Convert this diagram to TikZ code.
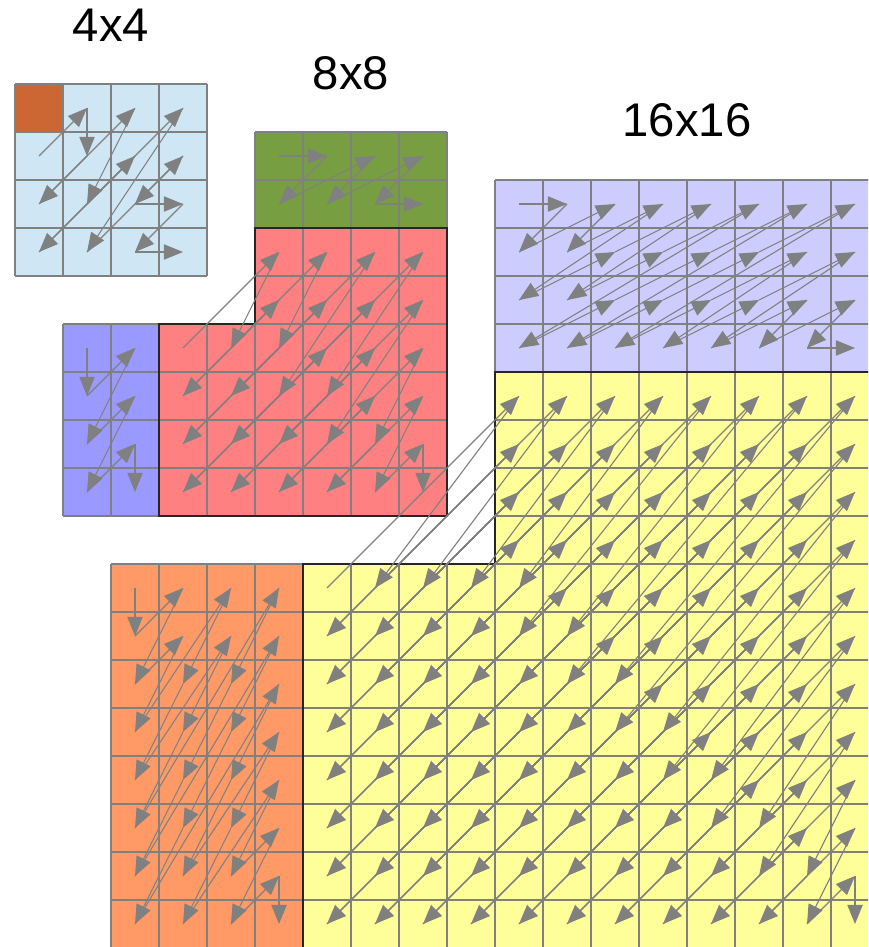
\documentclass[tikz,border=0pt]{standalone}
\usepackage{fontspec}
\setmainfont{Liberation Sans}
\usetikzlibrary{arrows.meta}
\definecolor{lowblue}{HTML}{CFE7F5}
\definecolor{dcbrown}{HTML}{CC6633}
\definecolor{horgreen}{HTML}{789E42}
\definecolor{verblue}{HTML}{9999FF}
\definecolor{diagred}{HTML}{FF8080}
\definecolor{horlilac}{HTML}{CCCCFF}
\definecolor{verorange}{HTML}{FF9966}
\definecolor{diagyellow}{HTML}{FFFF99}
\definecolor{linegray}{HTML}{808080}

\newcount\scanon
\newcommand{\scanreset}{\global\scanon=0 }
\newcommand{\scanto}[3]{%
  \ifnum\scanon=1 \draw[scan] (#1-\prevr-\prevc) -- (#1-#2-#3);\fi
  \xdef\prevr{#2}\xdef\prevc{#3}\global\scanon=1 }
\newcommand{\hscan}[5]{%
  \scanreset
  \foreach \k in {0,...,13}{
    \foreach \i in {3,2,1,0}{
      \pgfmathtruncatemacro\scancc{\k-2*\i}
      \ifnum\i<#4 \ifnum\scancc>-1 \ifnum\scancc<#5
        \pgfmathtruncatemacro\scanra{#2+\i}\pgfmathtruncatemacro\scanca{#3+\scancc}%
        \scanto{#1}{\scanra}{\scanca}\fi\fi\fi}}}
\newcommand{\vscan}[5]{%
  \scanreset
  \foreach \k in {0,...,13}{
    \foreach \j in {3,2,1,0}{
      \pgfmathtruncatemacro\scanrr{\k-2*\j}
      \ifnum\j<#5 \ifnum\scanrr>-1 \ifnum\scanrr<#4
        \pgfmathtruncatemacro\scanra{#2+\scanrr}\pgfmathtruncatemacro\scanca{#3+\j}%
        \scanto{#1}{\scanra}{\scanca}\fi\fi\fi}}}
\newcommand{\lvisit}[6]{%
  \ifnum#2<#4 \else\ifnum#3<#4 \else\ifnum#2>#5 \else\ifnum#3>#5 \else
    \ifnum#2<#6 \ifnum#3<#6 \else\scanto{#1}{#2}{#3}\fi
    \else\scanto{#1}{#2}{#3}\fi
  \fi\fi\fi\fi}
\newcommand{\diagscan}[6]{%
  \scanreset
  \foreach \d in {#2,...,#3}{
    \foreach \v in {0,...,#3}{
      \ifodd\numexpr\d+\v\relax\else
        \pgfmathtruncatemacro\scanra{(\d+\v)/2}\pgfmathtruncatemacro\scanca{\d-\scanra}%
        \lvisit{#1}{\scanra}{\scanca}{#4}{#5}{#6}%
        \ifnum\v>0
          \pgfmathtruncatemacro\scanrb{(\d-\v)/2}\pgfmathtruncatemacro\scancb{\d-\scanrb}%
          \lvisit{#1}{\scanrb}{\scancb}{#4}{#5}{#6}%
        \fi
      \fi}}}

\begin{document}
\begin{tikzpicture}[x=1cm,y=-1cm,
  cellgrid/.style={draw=linegray,line width=0.7pt},
  bandedge/.style={draw=black!85,line width=0.7pt},
  scan/.style={draw=linegray,line width=0.65pt,-{Triangle[length=0.4cm,width=0.32cm]}},
  sizelabel/.style={anchor=base,font=\fontsize{28}{30}\selectfont}]
  \useasboundingbox (0,0) rectangle (18.0833,19.7292);
  \clip (0,0) rectangle (18.0833,19.7292);

  \begin{scope}[shift={(0.3125,1.75)}]
    \fill[lowblue] (0,0) rectangle (4,4);
    \fill[dcbrown] (0,0) rectangle (1,1);
    \foreach \i in {0,...,4}{\draw[cellgrid] (\i,0) -- (\i,4); \draw[cellgrid] (0,\i) -- (4,\i);}
    \foreach \r in {0,...,3}{\foreach \c in {0,...,3}{\coordinate (g4-\r-\c) at (\c+0.5,\r+0.5);}}
    \node[sizelabel] (lab4) at (2,-0.88) {4x4};
  \end{scope}

  \begin{scope}[shift={(1.3125,2.75)}]
    \fill[horgreen] (4,0) rectangle (8,2);
    \fill[verblue] (0,4) rectangle (2,8);
    \fill[diagred] (4,2) -- (8,2) -- (8,8) -- (2,8) -- (2,4) -- (4,4) -- cycle;
    \foreach \i in {4,...,8}{\draw[cellgrid] (\i,0) -- (\i,8);}
    \foreach \i in {0,...,3}{\draw[cellgrid] (\i,4) -- (\i,8);}
    \foreach \i in {0,...,3}{\draw[cellgrid] (4,\i) -- (8,\i);}
    \foreach \i in {4,...,8}{\draw[cellgrid] (0,\i) -- (8,\i);}
    \draw[bandedge] (4,2) -- (8,2) -- (8,8) -- (2,8) -- (2,4) -- (4,4) -- cycle;
    \foreach \r in {0,...,7}{\foreach \c in {0,...,7}{\coordinate (g8-\r-\c) at (\c+0.5,\r+0.5);}}
    \node[sizelabel] (lab8) at (6,-0.88) {8x8};
  \end{scope}

  \begin{scope}[shift={(2.3125,3.75)}]
    \fill[horlilac] (8,0) rectangle (16,4);
    \fill[verorange] (0,8) rectangle (4,16);
    \fill[diagyellow] (8,4) -- (16,4) -- (16,16) -- (4,16) -- (4,8) -- (8,8) -- cycle;
    \foreach \i in {8,...,16}{\draw[cellgrid] (\i,0) -- (\i,16);}
    \foreach \i in {0,...,7}{\draw[cellgrid] (\i,8) -- (\i,16);}
    \foreach \i in {0,...,7}{\draw[cellgrid] (8,\i) -- (16,\i);}
    \foreach \i in {8,...,16}{\draw[cellgrid] (0,\i) -- (16,\i);}
    \draw[bandedge] (8,4) -- (16,4) -- (16,16) -- (4,16) -- (4,8) -- (8,8) -- cycle;
    \foreach \r in {0,...,15}{\foreach \c in {0,...,15}{\coordinate (g16-\r-\c) at (\c+0.5,\r+0.5);}}
    \node[sizelabel] (lab16) at (12,-0.9) {16x16};
  \end{scope}

  \scanreset
  \foreach \r/\c in {1/0,0/1,1/1,2/0,0/2,2/1,1/2,3/0,0/3,3/1,1/3,2/2,2/3,3/2,3/3}{\scanto{g4}{\r}{\c}}
  \hscan{g8}{0}{4}{2}{4}
  \vscan{g8}{4}{0}{4}{2}
  \diagscan{g8}{6}{14}{2}{7}{4}
  \hscan{g16}{0}{8}{4}{8}
  \vscan{g16}{8}{0}{8}{4}
  \diagscan{g16}{12}{30}{4}{15}{8}
\end{tikzpicture}
\end{document}
